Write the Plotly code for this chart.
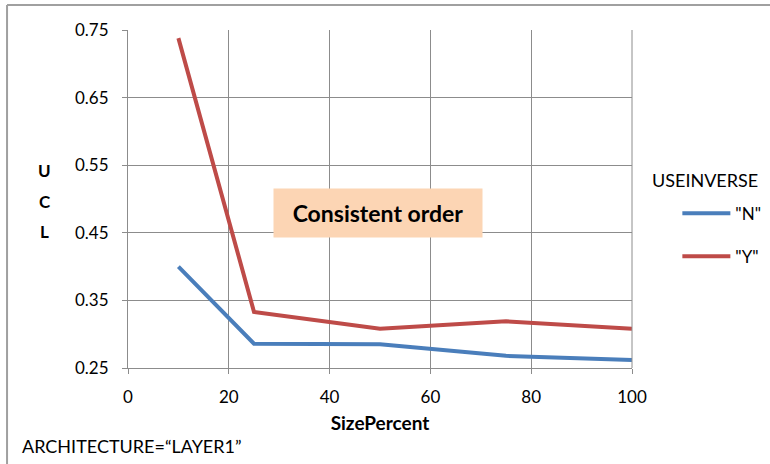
import plotly.graph_objects as go

# Measured UCL by SizePercent for each USEINVERSE setting
size_percent = [10, 25, 50, 75, 100]
ucl_n = [0.400, 0.286, 0.285, 0.268, 0.262]
ucl_y = [0.738, 0.333, 0.308, 0.319, 0.308]
series_names = ['"N"', '"Y"']
x_ticks = [0, 20, 40, 60, 80, 100]
y_ticks = [0.25, 0.35, 0.45, 0.55, 0.65, 0.75]

FONT = "Lato, Open Sans, sans-serif"
GRID = "#8c8c8c"

fig = go.Figure()
fig.add_trace(go.Scatter(x=size_percent, y=ucl_n, mode="lines", name=series_names[0],
                         line=dict(color="#4A7EBB", width=4), legendgroup="n"))
fig.add_trace(go.Scatter(x=size_percent, y=ucl_y, mode="lines", name=series_names[1],
                         line=dict(color="#BE4B48", width=4), legendgroup="y"))

fig.update_layout(
    width=770, height=464,
    margin=dict(l=128, r=138, t=30, b=96, autoexpand=False),
    paper_bgcolor="white", plot_bgcolor="white",
    font=dict(family=FONT, size=17, color="black"),
    showlegend=True,
    legend=dict(x=1.09, y=0.51, xanchor="left", yanchor="top",
                traceorder="grouped", tracegroupgap=18, itemwidth=48,
                font=dict(size=17), bgcolor="rgba(0,0,0,0)"),
    xaxis=dict(range=[0, 100], tickvals=x_ticks, showgrid=True, gridcolor=GRID, gridwidth=1,
               showline=True, linecolor=GRID, linewidth=1, ticks="outside", ticklen=5,
               tickcolor=GRID, zeroline=False, mirror=False, ticklabelstandoff=9,
               tickfont=dict(size=17),
               title=dict(text="<b>SizePercent</b>", font=dict(size=19), standoff=10)),
    yaxis=dict(range=[0.25, 0.75], tickvals=y_ticks, tickformat=".2f", showgrid=True,
               gridcolor=GRID, gridwidth=1, showline=True, linecolor=GRID, linewidth=1,
               ticks="outside", ticklen=5, tickcolor=GRID, zeroline=False,
               ticklabelstandoff=10, tickfont=dict(size=17)),
)

# Right edge of the plot box
fig.add_shape(type="line", xref="paper", yref="paper", x0=1, x1=1, y0=0, y1=1,
              line=dict(color=GRID, width=1))

# Outer chart frame (top and left edges)
fig.add_shape(type="line", xref="paper", yref="paper", x0=-0.240, x1=1.3, y0=1.074, y1=1.074,
              line=dict(color="#a0a0a0", width=2))
fig.add_shape(type="line", xref="paper", yref="paper", x0=-0.240, x1=-0.240, y0=-0.4, y1=1.074,
              line=dict(color="#a0a0a0", width=2))

# Stacked y-axis title
for i, ch in enumerate(["U", "C", "L"]):
    fig.add_annotation(text=f"<b>{ch}</b>", xref="paper", yref="paper",
                       x=-0.165, y=0.583 - i * 0.09, showarrow=False,
                       font=dict(size=17), xanchor="center", yanchor="middle")

fig.add_annotation(text="USEINVERSE", xref="paper", yref="paper", x=1.036, y=0.555,
                   showarrow=False, xanchor="left", yanchor="middle", font=dict(size=18))

fig.add_annotation(text="<b>Consistent order</b>", xref="paper", yref="paper",
                   x=0.496, y=0.459, showarrow=False, xanchor="center", yanchor="middle",
                   font=dict(size=23), bgcolor="#FCD5B4", width=206, height=46)

fig.add_annotation(text="ARCHITECTURE=\u201cLAYER1\u201d", xref="paper", yref="paper",
                   x=-0.214, y=-0.231, showarrow=False, xanchor="left", yanchor="middle",
                   font=dict(size=18))

fig.write_html("out.html")
